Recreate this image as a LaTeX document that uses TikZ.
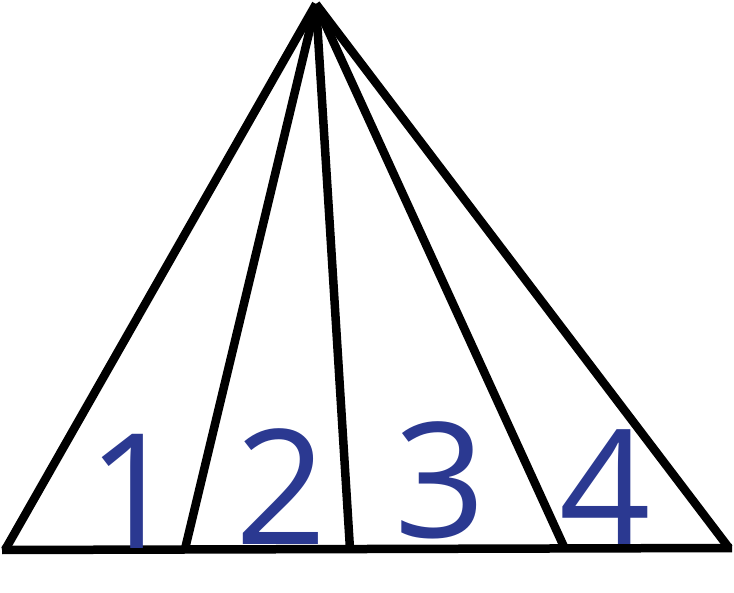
\documentclass[tikz,border=0pt]{standalone}
\usepackage{fontspec}
\setmainfont{Open Sans}
\usepackage{tikz}
\usetikzlibrary{positioning}
\definecolor{numblue}{RGB}{43,57,145}
\tikzset{edge/.style={draw,line width=8.5pt},
  num/.style={anchor=base,text=numblue,inner sep=0pt,font=\fontsize{160}{160}\selectfont}}
\begin{document}
\begin{tikzpicture}[x=1pt,y=-1pt]
		\useasboundingbox (0,0) rectangle (734,593);
		\coordinate (top) at (316,4);
		\coordinate (b0) at (5,550);
		\coordinate (b1) at (185,549);
		\coordinate (b2) at (350,549);
		\coordinate (b3) at (565,549);
		\coordinate (b4) at (729,548);
		\foreach \b in {b0,b1,b2,b3,b4}
			\draw[edge] (top) -- (\b);
		\draw[edge] ([xshift=-3pt]b0) -- ([xshift=3pt]b4);
		\node(1) [num] at (133,548) {1};
		\node(2) [num] at (281,544) {2};
		\node(3) [num] at (440,537) {3};
		\node(4) [num] at (605,544) {4};
	\end{tikzpicture}
\end{document}
